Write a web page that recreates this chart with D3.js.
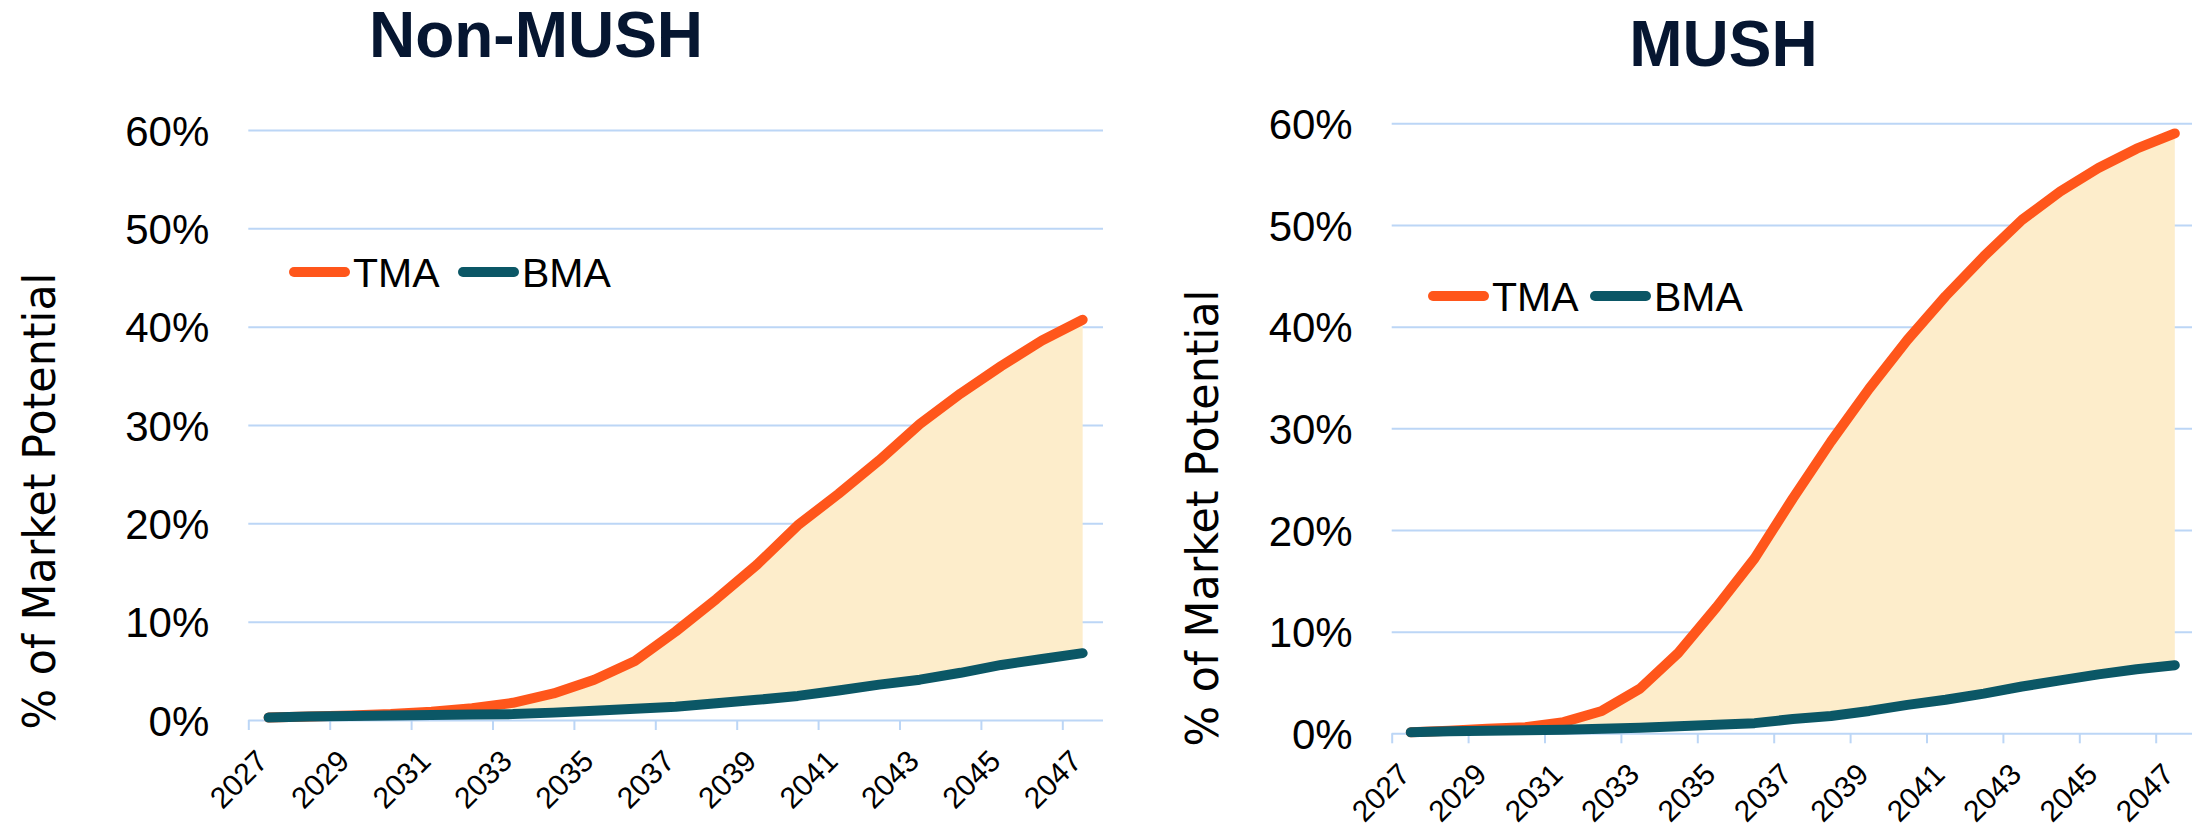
<!DOCTYPE html>
<html>
<head>
<meta charset="utf-8">
<script src="https://cdn.jsdelivr.net/npm/d3@7"></script>
<style>
  html, body { margin: 0; padding: 0; background: #ffffff; }
  svg { display: block; }
</style>
</head>
<body>
<svg id="chart" width="2192" height="829"></svg>
<script>
// Categories and tick labels
const years = ["2027","2028","2029","2030","2031","2032","2033","2034","2035","2036","2037",
               "2038","2039","2040","2041","2042","2043","2044","2045","2046","2047"];
const yTicks = [0, 10, 20, 30, 40, 50, 60];
const seriesNames = ["TMA", "BMA"];

// Adoption, % of market potential
const nonMushTMA = [0.25, 0.35, 0.45, 0.6, 0.85, 1.2, 1.75, 2.7, 4.1, 6.0, 9.0,
                    12.3, 15.8, 19.8, 23.0, 26.4, 30.1, 33.2, 36.0, 38.6, 40.7];
const nonMushBMA = [0.25, 0.35, 0.4, 0.45, 0.5, 0.55, 0.6, 0.75, 0.95, 1.15, 1.35,
                    1.7, 2.05, 2.45, 3.0, 3.6, 4.1, 4.8, 5.6, 6.2, 6.8];
const mushTMA = [0.1, 0.25, 0.45, 0.6, 1.1, 2.2, 4.4, 7.9, 12.4, 17.2, 23.1,
                 28.7, 33.9, 38.7, 43.0, 46.9, 50.5, 53.3, 55.6, 57.5, 59.0];
const mushBMA = [0.1, 0.2, 0.25, 0.3, 0.35, 0.45, 0.55, 0.7, 0.85, 1.0, 1.4,
                 1.7, 2.2, 2.8, 3.3, 3.9, 4.6, 5.2, 5.8, 6.3, 6.7];

const COLORS = { TMA: "#ff561b", BMA: "#0b5766", band: "#fdedcb", grid: "#bcd6f6", title: "#061631" };
const LABEL_FONT = "'Liberation Sans', Arial, sans-serif";
const AXIS_TITLE_FONT = "'DejaVu Sans', sans-serif";

const svg = d3.select("#chart");

function drawPanel(cfg) {
  const g = svg.append("g");
  const n = years.length;

  const x = d3.scaleBand().domain(years).range([cfg.x0, cfg.x0 + cfg.step * n]).padding(0);
  const xc = d => x(d) + x.bandwidth() / 2;
  const xb = d3.scaleLinear().domain([0, n]).range([cfg.x0, cfg.x0 + cfg.step * n]);
  const y = d3.scaleLinear().domain([0, 60]).range([cfg.y0, cfg.y60]);

  // gridlines + y labels
  const yAxis = g.append("g")
    .attr("transform", `translate(${cfg.x0},0)`)
    .call(d3.axisLeft(y).tickValues(yTicks).tickFormat(d => d + "%")
      .tickSize(-(cfg.step * n)).tickPadding(39));
  yAxis.select(".domain").remove();
  yAxis.selectAll(".tick line").attr("stroke", COLORS.grid).attr("stroke-width", 2);
  yAxis.selectAll(".tick text")
    .attr("font-family", LABEL_FONT).attr("font-size", 42).attr("fill", "#000")
    .attr("dy", "0.36em");

  // tick marks between category pairs
  const xTickAxis = g.append("g")
    .attr("transform", `translate(0,${cfg.y0})`)
    .call(d3.axisBottom(xb).tickValues(d3.range(0, n, 2)).tickFormat("").tickSize(10).tickSizeOuter(0));
  xTickAxis.select(".domain").remove();
  xTickAxis.selectAll(".tick line").attr("stroke", COLORS.grid).attr("stroke-width", 2);

  // rotated year labels under every other category
  const xLab = g.append("g")
    .attr("transform", `translate(0,${cfg.y0})`)
    .call(d3.axisBottom(x).tickValues(years.filter((d, i) => i % 2 === 0)).tickSize(0));
  xLab.select(".domain").remove();
  xLab.selectAll(".tick text")
    .attr("font-family", LABEL_FONT).attr("font-size", 30).attr("fill", "#000")
    .attr("text-anchor", "end").attr("dy", null).attr("y", null)
    .attr("transform", "translate(1,43) rotate(-45)");

  const rows = years.map((yr, i) => ({ yr, tma: cfg.tma[i], bma: cfg.bma[i] }));

  // shaded gap between the two adoption paths
  g.append("path")
    .datum(rows)
    .attr("fill", COLORS.band)
    .attr("d", d3.area().x(d => xc(d.yr)).y0(d => y(d.bma)).y1(d => y(d.tma)));

  const line = key => d3.line().x(d => xc(d.yr)).y(d => y(d[key]));
  g.append("path").datum(rows)
    .attr("fill", "none").attr("stroke", COLORS.TMA).attr("stroke-width", 10)
    .attr("stroke-linecap", "round").attr("stroke-linejoin", "round")
    .attr("d", line("tma"));
  g.append("path").datum(rows)
    .attr("fill", "none").attr("stroke", COLORS.BMA).attr("stroke-width", 10)
    .attr("stroke-linecap", "round").attr("stroke-linejoin", "round")
    .attr("d", line("bma"));

  // title
  g.append("text")
    .attr("x", cfg.titleX).attr("y", cfg.titleY)
    .attr("text-anchor", "middle")
    .attr("font-family", LABEL_FONT).attr("font-weight", "bold").attr("font-size", 64)
    .attr("fill", COLORS.title)
    .text(cfg.title);

  // y-axis title
  g.append("text")
    .attr("transform", `translate(${cfg.yTitleX},${cfg.yTitleY}) rotate(-90)`)
    .attr("text-anchor", "middle")
    .attr("font-family", AXIS_TITLE_FONT).attr("font-size", 45).attr("fill", "#000")
    .attr("textLength", 457).attr("lengthAdjust", "spacingAndGlyphs")
    .text("% of Market Potential");

  // legend
  const leg = g.append("g").attr("transform", `translate(${cfg.legX},${cfg.legY})`);
  const items = [{ name: seriesNames[0], color: COLORS.TMA, dx: 0 },
                 { name: seriesNames[1], color: COLORS.BMA, dx: cfg.legGap }];
  items.forEach(it => {
    leg.append("line")
      .attr("x1", it.dx + 5).attr("x2", it.dx + 56).attr("y1", 0).attr("y2", 0)
      .attr("stroke", it.color).attr("stroke-width", 10).attr("stroke-linecap", "round");
    leg.append("text")
      .attr("x", it.dx + 64).attr("y", 15)
      .attr("font-family", LABEL_FONT).attr("font-size", 41).attr("fill", "#000")
      .text(it.name);
  });
}

drawPanel({
  title: "Non-MUSH", tma: nonMushTMA, bma: nonMushBMA,
  x0: 248.3, step: 40.7, y0: 720, y60: 130,
  titleX: 536, titleY: 57,
  yTitleX: 55, yTitleY: 501,
  legX: 289, legY: 272, legGap: 169
});

drawPanel({
  title: "MUSH", tma: mushTMA, bma: mushBMA,
  x0: 1391.7, step: 38.2, y0: 733.3, y60: 123.3,
  titleX: 1723.5, titleY: 66,
  yTitleX: 1218, yTitleY: 518,
  legX: 1428, legY: 296, legGap: 162
});
</script>
</body>
</html>
